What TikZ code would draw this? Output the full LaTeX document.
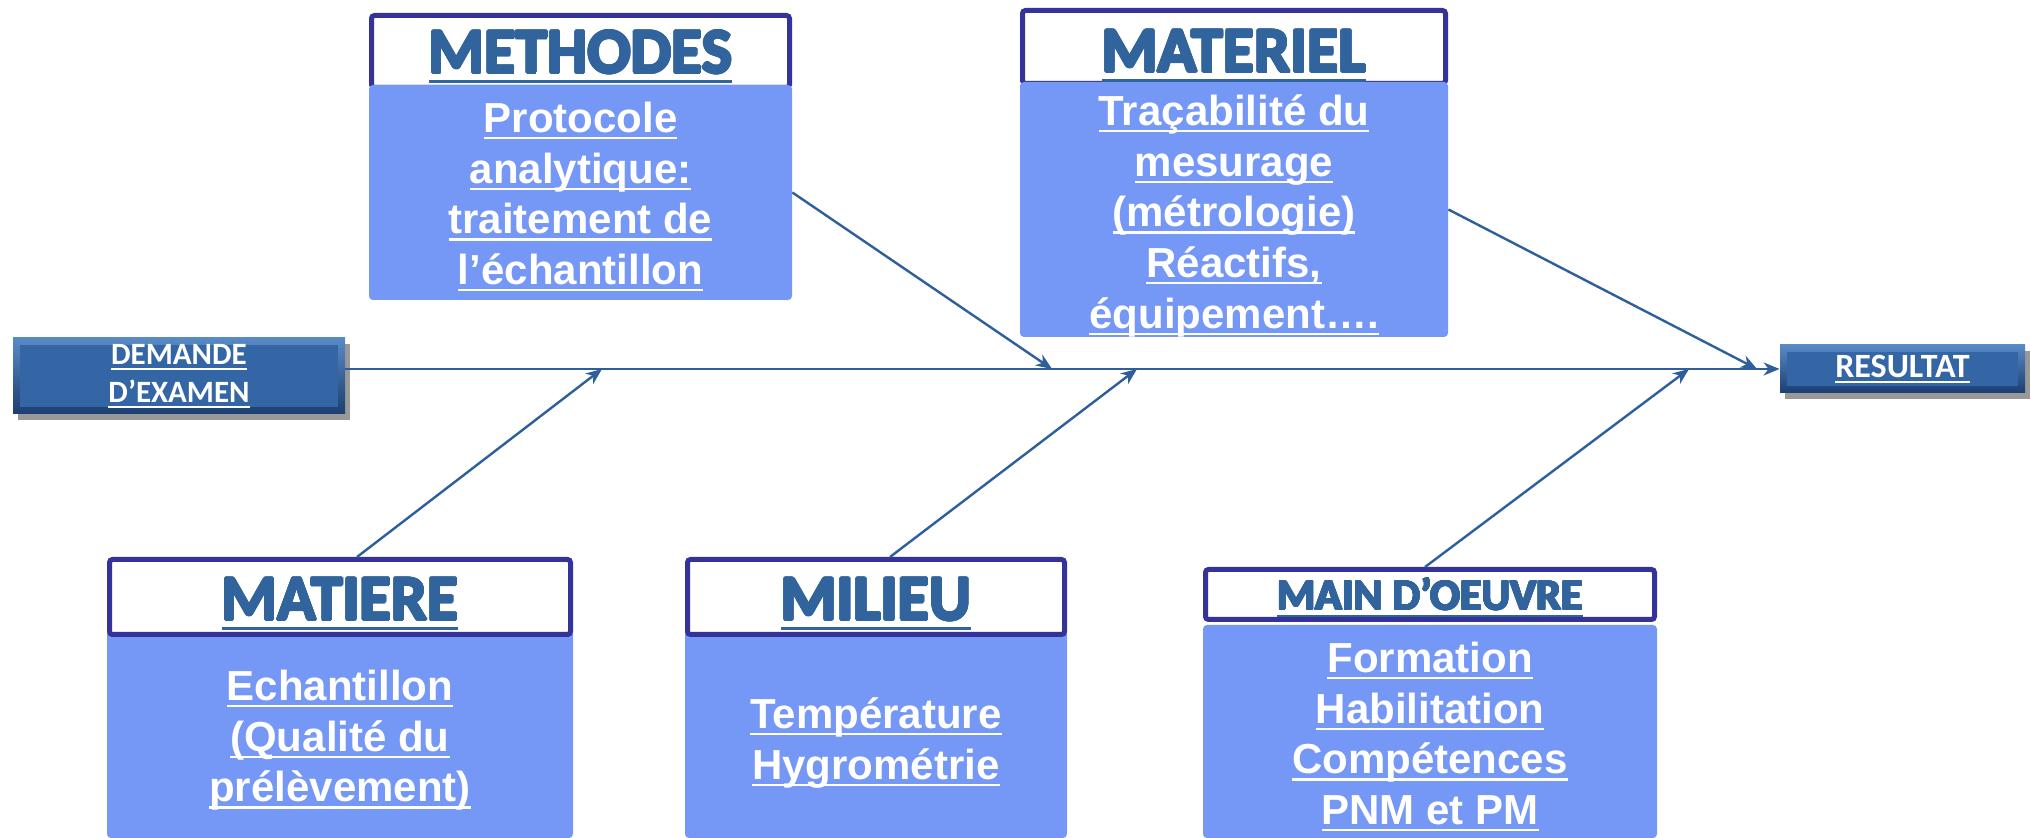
\documentclass[tikz,border=0pt]{standalone}
\usepackage{fontspec}
\usepackage{contour}
\setmainfont{Liberation Sans}
\newfontfamily\titlefont{Carlito}
\newfontfamily\btnfont{Carlito}
\usetikzlibrary{arrows.meta,shadows,calc}
\definecolor{navy}{RGB}{51,51,153}
\definecolor{bodyblue}{RGB}{117,151,245}
\definecolor{titleblue}{RGB}{49,100,157}
\definecolor{linecol}{RGB}{46,95,155}
\definecolor{btnlight}{RGB}{88,138,198}
\definecolor{btndark}{RGB}{28,62,112}
\definecolor{btnmid}{RGB}{52,102,165}
\contournumber{16}
\newcommand\ulx[1]{\setbox0\hbox{#1}\rlap{\rule[-0.16em]{\wd0}{0.055em}}\box0}
\newcommand\sline[1]{\strut\ulx{#1}}
\newcommand\ttlx[2]{\contourlength{#1}\ulx{\contour{titleblue}{#2}}}
\tikzset{
  hdr/.style={draw=navy, line width=2.5pt, fill=white, rounded corners=1.5pt, inner sep=0},
  bodybox/.style={fill=bodyblue, rounded corners=2pt, inner sep=0},
  ttl/.style={text=titleblue, font=\titlefont\bfseries\fontsize{32pt}{38pt}\selectfont, anchor=base, inner sep=0},
  btxt/.style={text=white, font=\bfseries\fontsize{21pt}{25.4pt}\selectfont, align=center, anchor=north, inner sep=0},
  arr/.style={draw=linecol, line width=1.2pt, -{Stealth[length=8pt,width=6.5pt,inset=2.5pt]}},
  btn/.style={top color=btnlight, bottom color=btndark,
    drop shadow={shadow xshift=2.5pt, shadow yshift=-3pt, opacity=0.4, fill=black},
    text=white, inner sep=0,
    path picture={\fill[btnmid] ([shift={(3.5pt,-3.5pt)}]path picture bounding box.north west) rectangle ([shift={(-3.5pt,3.5pt)}]path picture bounding box.south east);}}
}
\begin{document}
\begin{tikzpicture}[x=0.5pt, y=-0.5pt]
\useasboundingbox (0,0) rectangle (2031,838);

% METHODES
\node[hdr, minimum width=209pt, minimum height=36pt] (methh) at (580.5,51.5) {};
\node[bodybox, minimum width=211.5pt, minimum height=107.5pt] (methb) at (580.5,192.5) {};
\node[ttl] (metht) at (580.5,73) {\ttlx{0.6pt}{METHODES}};
\node[btxt] (methx) at (580.5,96.4) {\sline{Protocole}\\\sline{analytique:}\\\sline{traitement de}\\\sline{l’échantillon}};

% MATERIEL
\node[hdr, minimum width=211.5pt, minimum height=36.5pt] (math) at (1234,47) {};
\node[bodybox, minimum width=214pt, minimum height=127.5pt] (matb) at (1234,209.5) {};
\node[ttl] (matt) at (1234,72) {\ttlx{0.6pt}{MATERIEL}};
\node[btxt] (matx) at (1234,89.4) {\sline{Traçabilité du}\\\sline{mesurage}\\\sline{(métrologie)}\\\sline{Réactifs,}\\\sline{équipement….}};

% MATIERE
\node[bodybox, minimum width=233pt, minimum height=104pt] (mieb) at (340,734) {};
\node[hdr, minimum width=230.5pt, minimum height=37.5pt] (mieh) at (340,597) {};
\node[ttl] (miet) at (340,620) {\ttlx{0.6pt}{MATIERE}};
\node[btxt] (miex) at (340,664.4) {\sline{Echantillon}\\\sline{(Qualité du}\\\sline{prélèvement)}};

% MILIEU
\node[bodybox, minimum width=191pt, minimum height=104pt] (milb) at (876,734) {};
\node[hdr, minimum width=188.5pt, minimum height=37.5pt] (milh) at (876,597) {};
\node[ttl] (milt) at (876,620) {\ttlx{0.6pt}{MILIEU}};
\node[btxt] (milx) at (876,692.4) {\sline{Température}\\\sline{Hygrométrie}};

% MAIN D'OEUVRE
\node[hdr, minimum width=224.5pt, minimum height=25pt] (mainh) at (1430,594.5) {};
\node[bodybox, minimum width=227pt, minimum height=106.5pt] (mainb) at (1430,731.5) {};
\node[ttl, font=\titlefont\bfseries\fontsize{22pt}{26pt}\selectfont] (maint) at (1430,610) {\ttlx{0.45pt}{MAIN D’OEUVRE}};
\node[btxt] (mainx) at (1430,636.4) {\sline{Formation}\\\sline{Habilitation}\\\sline{Compétences}\\\sline{PNM et PM}};

% end boxes
\node[btn, minimum width=166pt, minimum height=38pt, align=center,
  font=\btnfont\bfseries\fontsize{15.5pt}{19pt}\selectfont] (demande) at (179,376) {\sline{DEMANDE}\\\sline{D’EXAMEN}};
\node[btn, minimum width=122.5pt, minimum height=24pt,
  font=\btnfont\bfseries\fontsize{17pt}{20pt}\selectfont] (resultat) at (1902.5,369) {\ulx{RESULTAT}};

% axis points
\coordinate (ax) at (demande.east |- resultat.west);
\coordinate (p1) at (602,369);
\coordinate (p2) at (1052,369);
\coordinate (p3) at (1137,369);
\coordinate (p4) at (1689,369);
\coordinate (p5) at (1757,369);

\draw[arr] (ax) -- (resultat.west);
\draw[arr] ($(mieh.north)+(17,0)$) -- (p1);
\draw[arr] (methb.east) -- (p2);
\draw[arr] ($(milh.north)+(14,0)$) -- (p3);
\draw[arr] ($(mainh.north)+(-5,0)$) -- (p4);
\draw[arr] (matb.east) -- (p5);
\end{tikzpicture}
\end{document}
